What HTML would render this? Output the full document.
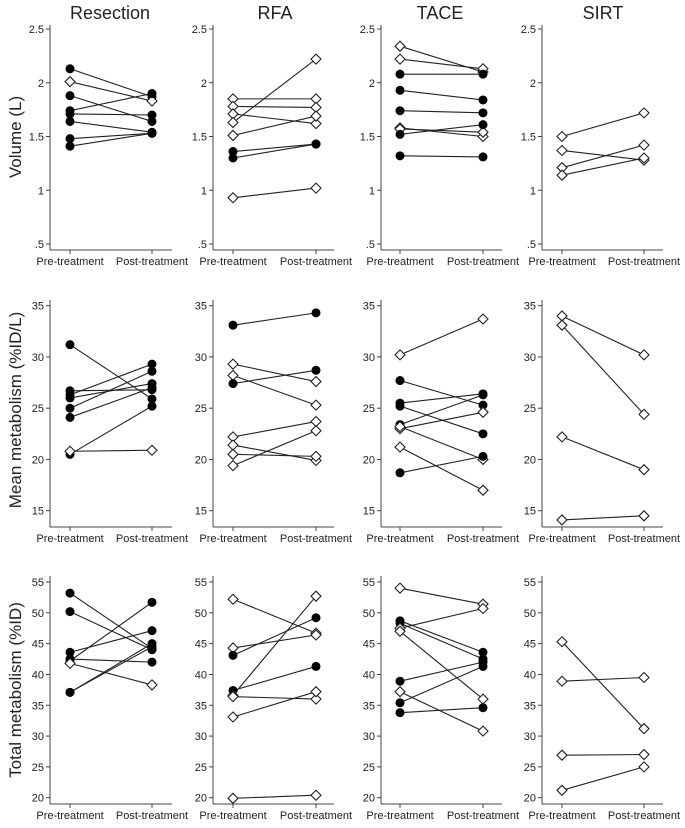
<!DOCTYPE html>
<html><head><meta charset="utf-8"><style>
body{margin:0;background:#fff;}
svg text{font-family:"Liberation Sans",Arial,sans-serif;fill:#222;}
</style></head><body>
<svg id="c" width="685" height="823" viewBox="0 0 685 823" xmlns="http://www.w3.org/2000/svg"></svg>
<script>
// ---- data (pre, post, filled marker flag) ----
const groups = ["Resection","RFA","TACE","SIRT"];
const xLabels = ["Pre-treatment","Post-treatment"];
const rowTitles = ["Volume (L)","Mean metabolism (%ID/L)","Total metabolism (%ID)"];
const volTicks = [0.5,1,1.5,2,2.5];
const volTickLabels = [".5","1","1.5","2","2.5"];
const meanTicks = [15,20,25,30,35];
const totTicks = [20,25,30,35,40,45,50,55];

const volResPre  = [2.13,2.01,1.88,1.74,1.71,1.64,1.48,1.41];
const volResPost = [1.87,1.83,1.64,1.90,1.70,1.54,1.53,1.53];
const volResFill = [1,0,1,1,1,1,1,1];
const volRfaPre  = [1.85,1.78,1.71,1.63,1.51,1.36,1.30,0.93];
const volRfaPost = [1.85,1.77,1.62,2.22,1.69,1.43,1.43,1.02];
const volRfaFill = [0,0,0,0,0,1,1,0];
const volTacePre  = [2.34,2.22,2.08,1.93,1.74,1.58,1.57,1.52,1.32];
const volTacePost = [2.10,2.13,2.08,1.84,1.72,1.50,1.54,1.61,1.31];
const volTaceFill = [0,0,1,1,1,0,0,1,1];
const volSirtPre  = [1.50,1.37,1.21,1.14];
const volSirtPost = [1.72,1.28,1.42,1.30];
const volSirtFill = [0,0,0,0];

const meanResPre  = [31.2,26.7,26.3,26.0,25.0,24.1,20.5,20.8];
const meanResPost = [25.9,26.8,29.3,27.4,28.6,27.0,25.2,20.9];
const meanResFill = [1,1,1,1,1,1,1,0];
const meanRfaPre  = [33.1,29.3,28.2,27.4,22.2,21.4,20.5,19.4];
const meanRfaPost = [34.3,27.6,25.3,28.7,23.7,19.9,20.3,22.8];
const meanRfaFill = [1,0,0,1,0,0,0,0];
const meanTacePre  = [30.2,27.7,25.5,25.2,23.4,23.0,23.2,21.2,18.7];
const meanTacePost = [33.7,25.3,26.4,22.5,26.3,24.6,20.0,17.0,20.3];
const meanTaceFill = [0,1,1,1,1,0,0,0,1];
const meanSirtPre  = [34.0,33.1,22.2,14.1];
const meanSirtPost = [30.2,24.4,19.0,14.5];
const meanSirtFill = [0,0,0,0];

const totResPre  = [53.2,50.2,43.6,42.5,42.2,41.8,37.1,37.1];
const totResPost = [44.2,44.0,47.1,42.0,51.7,38.3,44.5,45.0];
const totResFill = [1,1,1,1,1,0,1,1];
const totRfaPre  = [52.2,44.3,43.1,37.4,36.6,36.4,33.1,19.9];
const totRfaPost = [46.7,46.4,49.2,41.3,52.7,36.0,37.2,20.4];
const totRfaFill = [0,0,1,1,0,0,0,0];
const totTacePre  = [54.0,48.7,48.3,47.5,47.0,38.9,35.4,37.2,33.8];
const totTacePost = [51.4,43.6,42.5,50.7,36.0,42.0,41.3,30.8,34.6];
const totTaceFill = [0,1,1,0,0,1,1,0,1];
const totSirtPre  = [45.3,38.9,26.9,21.2];
const totSirtPost = [31.2,39.5,27.0,25.0];
const totSirtFill = [0,0,0,0];

const svg = document.getElementById('c');
const NS = "http://www.w3.org/2000/svg";
function mk(tag, attrs, parent){const e=document.createElementNS(NS,tag);for(const k in attrs)e.setAttribute(k,attrs[k]);(parent||svg).appendChild(e);return e;}

// layout
const axisX=[50,213,381,542], preX=[70,233,400,562], postX=[152,316,483,644], endX=[172,334,502,663];
const rows=[
 {top:25,bottom:250,vMin:0.5,vMax:2.5,yMin:244,yMax:29,ticks:volTicks,labels:volTickLabels,
  data:[[volResPre,volResPost,volResFill],[volRfaPre,volRfaPost,volRfaFill],[volTacePre,volTacePost,volTaceFill],[volSirtPre,volSirtPost,volSirtFill]]},
 {top:300,bottom:527,vMin:15,vMax:35,yMin:510.7,yMax:305.7,ticks:meanTicks,labels:meanTicks.map(String),
  data:[[meanResPre,meanResPost,meanResFill],[meanRfaPre,meanRfaPost,meanRfaFill],[meanTacePre,meanTacePost,meanTaceFill],[meanSirtPre,meanSirtPost,meanSirtFill]]},
 {top:576,bottom:804,vMin:20,vMax:55,yMin:797.7,yMax:582,ticks:totTicks,labels:totTicks.map(String),
  data:[[totResPre,totResPost,totResFill],[totRfaPre,totRfaPost,totRfaFill],[totTacePre,totTacePost,totTaceFill],[totSirtPre,totSirtPost,totSirtFill]]}
];
const titleCx=[110,275,440,603];
groups.forEach((g,i)=>{
  const t=mk('text',{x:titleCx[i],y:19,'text-anchor':'middle','font-size':'18'});
  t.textContent=g;
  
  
});
const rowCy=[137,410,690];
rows.forEach((r,ri)=>{
  const t=mk('text',{x:0,y:0,transform:`translate(21,${rowCy[ri]}) rotate(-90)`,'text-anchor':'middle','font-size':'17'});
  t.textContent=rowTitles[ri];
  
  
  const ys=v=>r.yMin+(v-r.vMin)/(r.vMax-r.vMin)*(r.yMax-r.yMin);
  for(let ci=0;ci<4;ci++){
    const gp=mk('g',{});
    
    
    const ax=axisX[ci];
    mk('line',{x1:ax,y1:r.top,x2:ax,y2:r.bottom,stroke:'#444','stroke-width':1},gp);
    mk('line',{x1:ax,y1:r.bottom,x2:endX[ci],y2:r.bottom,stroke:'#444','stroke-width':1},gp);
    r.ticks.forEach((tv,k)=>{
      const y=ys(tv);
      mk('line',{x1:ax-4,y1:y,x2:ax,y2:y,stroke:'#444'},gp);
      const tl=mk('text',{x:ax-6,y:y+4,'text-anchor':'end','font-size':'11'},gp);
      tl.textContent=r.labels[k];
      
      
    });
    [preX[ci],postX[ci]].forEach((x,k)=>{
      mk('line',{x1:x,y1:r.bottom,x2:x,y2:r.bottom+4,stroke:'#444'},gp);
      const xl=mk('text',{x:x,y:r.bottom+15,'text-anchor':'middle','font-size':'11'},gp);
      xl.textContent=xLabels[k];
      
      
    });
    const [pre,post,fill]=r.data[ci];
    pre.forEach((v,k)=>{
      const y1=ys(v),y2=ys(post[k]);
      const ln=mk('line',{x1:preX[ci],y1:y1,x2:postX[ci],y2:y2,stroke:'#222','stroke-width':1.1},gp);
      
      
    });
    pre.forEach((v,k)=>{
      [[preX[ci],ys(v)],[postX[ci],ys(post[k])]].forEach(([x,y])=>{
        let m;
        if(fill[k]) m=mk('circle',{cx:x,cy:y,r:4.5,fill:'#000'},gp);
        else m=mk('polygon',{points:`${x},${y-5} ${x+5},${y} ${x},${y+5} ${x-5},${y}`,fill:'#fff',stroke:'#222','stroke-width':1.1},gp);
        
        
      });
    });
  }
});
</script>
</body></html>
